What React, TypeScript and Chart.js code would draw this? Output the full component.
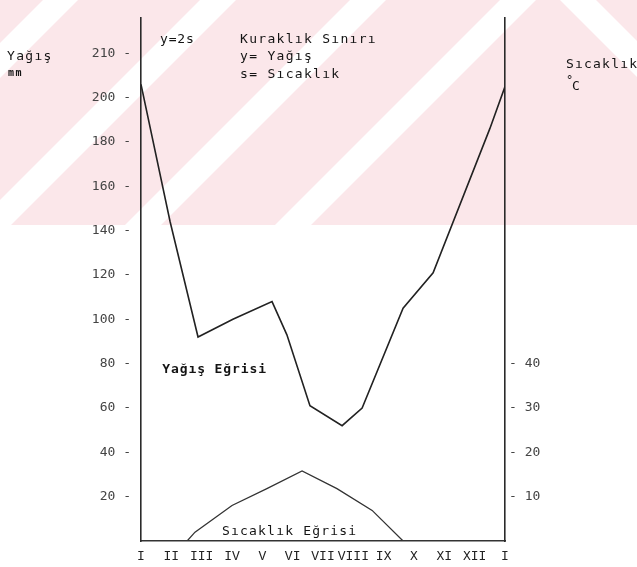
import React, { useEffect, useRef } from "react";
import { Chart, registerables } from "chart.js";

Chart.register(...registerables);

// ---- data ----
const monthLabels = ["I", "II", "III", "IV", "V", "VI", "VII", "VIII", "IX", "X", "XI", "XII", "I"];
// month position (0 = January, 12 = next January) and precipitation in mm
const precipMonth = [0, 0.96, 1.88, 3.03, 4.32, 4.81, 5.57, 6.63, 7.29, 8.64, 9.63, 11.5, 12];
const precipMm = [206, 144, 92, 100, 108, 93, 61, 52, 60, 105, 121, 186, 205];
// month position and temperature in °C
const tempMonth = [1.52, 1.78, 3.0, 4.15, 5.31, 6.46, 7.62, 8.64];
const tempC = [0, 2, 8, 11.8, 15.8, 11.8, 6.9, 0];
// axis ticks
const precipTickValues = [20, 40, 60, 80, 100, 120, 140, 160, 180, 200, 220];
const precipTickLabels = ["20", "40", "60", "80", "100", "120", "140", "160", "180", "200", "210"];
const tempTickValues = [10, 20, 30, 40];
const tempTickLabels = ["10", "20", "30", "40"];

const MONO = "'DejaVu Sans Mono', monospace";
const INK = "#141414";

function txt(ctx: CanvasRenderingContext2D, s: string, x: number, y: number, font: string, spacing: number, color = INK) {
  ctx.save();
  ctx.font = font;
  ctx.fillStyle = color;
  (ctx as any).letterSpacing = spacing + "px";
  ctx.textAlign = "left";
  ctx.textBaseline = "alphabetic";
  ctx.fillText(s, x, y);
  ctx.restore();
}

const backgroundPlugin = {
  id: "bg",
  beforeDraw(chart: any) {
    const ctx = chart.ctx as CanvasRenderingContext2D;
    const W = chart.width;
    ctx.save();
    ctx.fillStyle = "#ffffff";
    ctx.fillRect(0, 0, W, chart.height);
    // faint pink scan watermark in the upper part
    ctx.beginPath();
    ctx.rect(0, 0, W, 225);
    ctx.clip();
    ctx.fillStyle = "#fbe7ea";
    ctx.fillRect(0, 0, W, 225);
    ctx.fillStyle = "#ffffff";
    const band = (x0: number, w: number, dir: number) => {
      ctx.beginPath();
      ctx.moveTo(x0, 0);
      ctx.lineTo(x0 + w, 0);
      ctx.lineTo(x0 + w - dir * 260, 260);
      ctx.lineTo(x0 - dir * 260, 260);
      ctx.closePath();
      ctx.fill();
    };
    band(43, 35, 1);
    band(200, 36, 1);
    band(350, 36, 1);
    band(500, 36, 1);
    band(560, 36, -1);
    ctx.restore();
  },
};

const labelPlugin = {
  id: "labels",
  afterDraw(chart: any) {
    const ctx = chart.ctx as CanvasRenderingContext2D;
    const x = chart.scales.x;
    const y = chart.scales.y;
    txt(ctx, "Yağış", 7, 60, `13px ${MONO}`, 1.3);
    txt(ctx, "mm", 8, 76, `bold 10px ${MONO}`, 1.5);
    txt(ctx, "y=2s", 160, 43, `13px ${MONO}`, 0.8);
    txt(ctx, "Kuraklık Sınırı", 240, 43, `13px ${MONO}`, 1.3);
    txt(ctx, "y= Yağış", 240, 60, `13px ${MONO}`, 1.3);
    txt(ctx, "s= Sıcaklık", 240, 78, `13px ${MONO}`, 1.3);
    txt(ctx, "Sıcaklık", 566, 68, `13px ${MONO}`, 1.2);
    txt(ctx, "°", 566, 84, `12px ${MONO}`, 0);
    txt(ctx, "C", 572, 90, `13px ${MONO}`, 0);
    txt(ctx, "Yağış Eğrisi", x.getPixelForValue(0.7), y.getPixelForValue(76), `bold 13px ${MONO}`, 0.9);
    txt(ctx, "Sıcaklık Eğrisi", x.getPixelForValue(2.67), y.getPixelForValue(2.7), `13px ${MONO}`, 1.2);
  },
};

export default function App() {
  const ref = useRef<HTMLCanvasElement>(null);
  useEffect(() => {
    const chart = new Chart(ref.current!, {
      type: "line",
      data: {
        datasets: [
          {
            label: "Yağış Eğrisi",
            data: precipMonth.map((m, i) => ({ x: m, y: precipMm[i] })),
            borderColor: "#222",
            borderWidth: 1.6,
            pointRadius: 0,
            tension: 0,
            yAxisID: "y",
          },
          {
            label: "Sıcaklık Eğrisi",
            data: tempMonth.map((m, i) => ({ x: m, y: tempC[i] })),
            borderColor: "#333",
            borderWidth: 1.3,
            pointRadius: 0,
            tension: 0,
            yAxisID: "y1",
          },
        ],
      },
      options: {
        animation: false,
        responsive: false,
        maintainAspectRatio: false,
        layout: { padding: { left: 0, right: 0, top: 8, bottom: 0 } },
        plugins: { legend: { display: false }, tooltip: { enabled: false } },
        scales: {
          x: {
            type: "linear",
            min: 0,
            max: 12,
            afterBuildTicks: (s: any) => {
              s.ticks = monthLabels.map((_, i) => ({ value: i }));
            },
            afterFit: (s: any) => {
              s.height = 26;
            },
            grid: { display: false, drawTicks: false },
            border: { display: true, color: "#333", width: 1.5 },
            ticks: {
              autoSkip: false,
              maxRotation: 0,
              padding: 8,
              color: "#222",
              font: { family: "'Liberation Mono', monospace", size: 13 },
              callback: (v: any) => monthLabels[v] ?? "",
            },
          },
          y: {
            type: "linear",
            position: "left",
            min: 0,
            max: 236,
            afterBuildTicks: (s: any) => {
              s.ticks = precipTickValues.map((v) => ({ value: v }));
            },
            afterFit: (s: any) => {
              s.width = 141;
            },
            grid: { display: false, drawTicks: false },
            border: { display: true, color: "#2a2a2a", width: 1.6 },
            ticks: {
              padding: 10,
              color: "#444",
              font: { family: MONO, size: 13 },
              callback: (v: any) => {
                const i = precipTickValues.indexOf(v);
                return i >= 0 ? precipTickLabels[i] + " -" : "";
              },
            },
          },
          y1: {
            type: "linear",
            position: "right",
            min: 0,
            max: 118,
            afterBuildTicks: (s: any) => {
              s.ticks = tempTickValues.map((v) => ({ value: v }));
            },
            afterFit: (s: any) => {
              s.width = 132;
            },
            grid: { display: false, drawTicks: false },
            border: { display: true, color: "#2a2a2a", width: 1.6 },
            ticks: {
              padding: 4,
              color: "#444",
              font: { family: MONO, size: 13 },
              callback: (v: any) => {
                const i = tempTickValues.indexOf(v);
                return i >= 0 ? "- " + tempTickLabels[i] : "";
              },
            },
          },
        },
      },
      plugins: [backgroundPlugin, labelPlugin],
    } as any);
    return () => chart.destroy();
  }, []);
  return (
    <div style={{ position: "fixed", left: 0, top: 0, width: 637, height: 567 }}>
      <canvas ref={ref} width={637} height={567} style={{ display: "block", width: 637, height: 567 }} />
    </div>
  );
}
